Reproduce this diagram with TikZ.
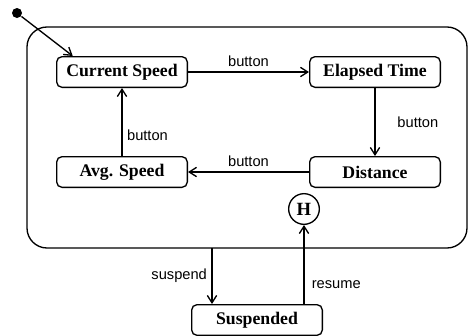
\documentclass[tikz,border=0pt]{standalone}
\usepackage{fontspec}
\setmainfont{Liberation Serif}
\setsansfont{Liberation Sans}
\usetikzlibrary{arrows.meta}

\tikzset{
  statebox/.style={draw, rounded corners=4pt, minimum width=98pt, minimum height=23pt,
    font=\bfseries\fontsize{13.3}{16}\selectfont},
  evt/.style={font=\sffamily\fontsize{11}{13}\selectfont},
}

\begin{document}
\begin{tikzpicture}[x=0.75pt,y=-0.75pt,line width=1pt,>={Straight Barb[length=5.5pt,width=7pt]}]
    \useasboundingbox (0,0) rectangle (469,336);
    % superstate
    \draw [rounded corners=15pt] (27,27) rectangle (467,248);
    \node[circle,fill=black,inner sep=0pt,minimum size=7.5pt] (init) at (17,13) {};
    \node[statebox] (cs) at (122,72) {Current Speed};
    \node[statebox] (et) at (375,72) {Elapsed Time};
    \node[statebox] (dist) at (375,172) {Distance};
    \node[statebox] (avg) at (122,172) {Avg. Speed};
    \node[circle,draw,inner sep=0pt,minimum size=23pt,font=\bfseries\fontsize{14}{16}\selectfont] (hist) at (304,209) {H};
    \node[statebox] (susp) at (257,320) {Suspended};
    \coordinate (out) at (212,248);

    \draw[->] (init)--(cs.162);
    \draw[->] (cs.east)--(et.west) node[midway,above,evt]{button};
    \draw[->] (et.south)--(dist.north) node[midway,right,xshift=13pt,evt]{button};
    \draw[->] (dist.west)--(avg.east) node[midway,above,evt]{button};
    \draw[->] (avg.north)--(cs.south) node[pos=0.3,right,evt]{button};
    \draw[->] (out)--(out |- susp.north) node[midway,left,evt]{suspend};
    \draw[->] (hist |- susp.north)--(hist.south) node[pos=0.25,right,xshift=2pt,evt]{resume};

\end{tikzpicture}
\end{document}
